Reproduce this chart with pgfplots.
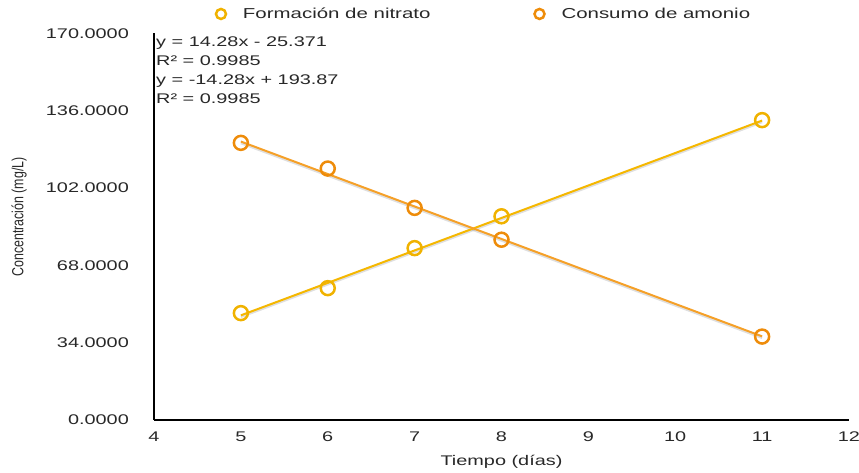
\documentclass[border=0pt]{standalone}
\usepackage{graphicx}
\usepackage{pgfplots}
\pgfplotsset{compat=1.18}
\usepackage{fontspec}
\setmainfont{Liberation Sans}[FakeStretch=1.42]
\newfontfamily\labelfont{Liberation Sans}
\definecolor{nitrato}{RGB}{245,183,0}
\definecolor{nitratomark}{RGB}{240,178,0}
\definecolor{amonio}{RGB}{245,160,40}
\definecolor{amoniomark}{RGB}{238,140,10}
\definecolor{txt}{RGB}{40,40,40}

\begin{document}
\fontsize{14}{17}\selectfont
\begin{tikzpicture}
\begin{axis}[
  scale only axis, width=695pt, height=386.5pt,
  xmin=4, xmax=12, ymin=0, ymax=170,
  axis lines*=left,
  axis line style={black, line width=1.3pt},
  xtick={4,5,6,7,8,9,10,11,12},
  ytick={0,34,68,102,136,170},
  major tick length=0pt,
  tick style={draw=none},
  ticklabel style={font=\fontsize{14}{17}\selectfont, text=txt},
  xticklabel style={yshift=-7.3pt},
  yticklabel style={xshift=-20.3pt,
    /pgf/number format/.cd, fixed, fixed zerofill, precision=4, assume math mode=true},
  xticklabel style={/pgf/number format/assume math mode=true},
  xlabel={Tiempo (días)},
  xlabel style={at={(rel axis cs:0.5,0)}, anchor=center, yshift=-42pt,
    font=\fontsize{14}{17}\selectfont, text=txt},
  ylabel={\scalebox{1}[1.3]{Concentración (mg/L)}},
  ylabel style={at={(rel axis cs:-0.1942,0.525)}, anchor=center,
    font=\labelfont\fontsize{12.4}{14}\selectfont, text=txt},
  legend columns=2,
  legend style={at={(rel axis cs:0.0889,1.0505)}, anchor=west, draw=none, fill=none,
    inner sep=0pt, nodes={inner sep=0pt, text=txt},
    font=\fontsize{14.4}{17}\selectfont,
    /tikz/every odd column/.append style={column sep=17pt},
    /tikz/every even column/.append style={column sep=104pt}},
  legend image code/.code={\draw[#1, mark size=5pt] plot coordinates {(0pt,0pt)};},
  clip=false,
]
\coordinate (bl) at (rel axis cs:0,0);

% soft shadows under the trend lines
\addplot[forget plot, gray, opacity=0.25, line width=2.2pt, yshift=-1.6pt]
  coordinates {(5,46.029) (11,131.709)};
\addplot[forget plot, gray, opacity=0.25, line width=2.2pt, yshift=-1.6pt]
  coordinates {(5,122.47) (11,36.79)};

% linear trend lines
\addplot[forget plot, nitrato, line width=2pt] coordinates {(5,46.029) (11,131.709)};
\addplot[forget plot, amonio, line width=2pt] coordinates {(5,122.47) (11,36.79)};

% measured values
\addplot[only marks, mark=o, mark size=7pt, nitratomark, mark options={line width=2.5pt}]
  coordinates {(5,47.0) (6,58.0) (7,75.6) (8,89.6) (11,131.9)};
\addlegendentry{Formación de nitrato}
\addplot[only marks, mark=o, mark size=7pt, amoniomark, mark options={line width=2.5pt}]
  coordinates {(5,121.9) (6,110.6) (7,93.3) (8,79.3) (11,36.7)};
\addlegendentry{Consumo de amonio}

\node[anchor=north west, align=left, inner sep=0pt, xshift=2pt, yshift=-3.5pt,
      font=\fontsize{14}{19}\selectfont, text=txt] at (rel axis cs:0,1)
  {y = 14.28x - 25.371\\R² = 0.9985\\y = -14.28x + 193.87\\R² = 0.9985};
\end{axis}
\pgfresetboundingbox
\path[use as bounding box] (bl) ++(-154pt,-53pt) rectangle ++(859pt,473pt);
\end{tikzpicture}
\end{document}
